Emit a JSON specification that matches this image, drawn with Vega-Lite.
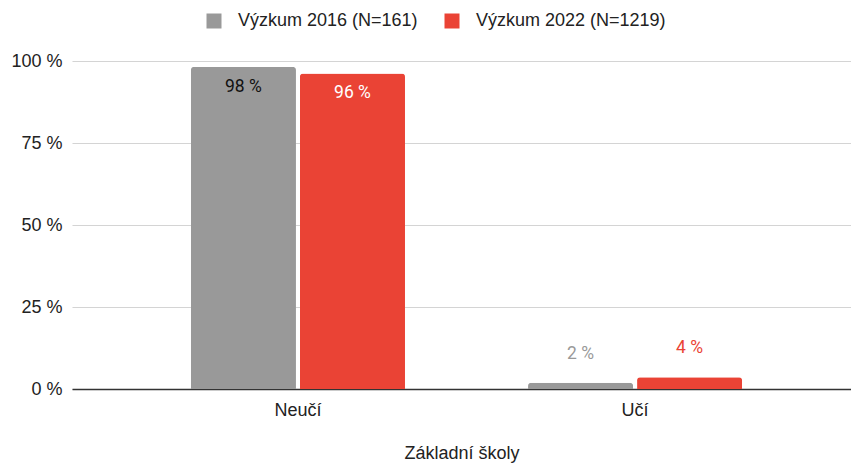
{
  "$schema": "https://vega.github.io/schema/vega-lite/v6.json",
  "autosize": {"type": "none"},
  "padding": {"left": 72, "top": 61, "right": 0, "bottom": 77},
  "width": 779,
  "height": 328,
  "config": {
    "view": {"stroke": null},
    "font": "Liberation Sans",
    "axis": {"labelFont": "Liberation Sans", "titleFont": "Liberation Sans", "labelColor": "#222222", "titleColor": "#222222"}
  },
  "data": {
    "values": [
      {"category": "Neučí", "series": "Výzkum 2016 (N=161)", "value": 98.2},
      {"category": "Neučí", "series": "Výzkum 2022 (N=1219)", "value": 96.2},
      {"category": "Učí", "series": "Výzkum 2016 (N=161)", "value": 1.9},
      {"category": "Učí", "series": "Výzkum 2022 (N=1219)", "value": 3.6}
    ]
  },
  "transform": [
    {"calculate": "format(datum.value, '.0f') + ' %'", "as": "label"}
  ],
  "encoding": {
    "x": {
      "field": "category",
      "type": "nominal",
      "sort": ["Neučí", "Učí"],
      "scale": {"paddingInner": 0.365, "paddingOuter": 0.338, "align": 0.522},
      "axis": {
        "title": "Základní školy",
        "labelAngle": 0,
        "labelFontSize": 18,
        "titleFontSize": 18,
        "titleFontWeight": "normal",
        "ticks": false,
        "labelPadding": 12,
        "titlePadding": 25,
        "domainColor": "#333333",
        "domainWidth": 1.5
      }
    },
    "xOffset": {
      "field": "series",
      "type": "nominal",
      "sort": ["Výzkum 2016 (N=161)", "Výzkum 2022 (N=1219)"],
      "scale": {"paddingInner": 0.0367, "paddingOuter": 0}
    },
    "y": {
      "field": "value",
      "type": "quantitative",
      "scale": {"domain": [0, 100], "nice": false},
      "axis": {
        "title": null,
        "values": [0, 25, 50, 75, 100],
        "labelExpr": "datum.value + ' %'",
        "labelFontSize": 18,
        "ticks": false,
        "domain": false,
        "labelPadding": 10,
        "gridColor": "#d4d4d4",
        "gridWidth": 1.2
      }
    }
  },
  "layer": [
    {
      "mark": {"type": "bar", "cornerRadiusTopLeft": 3, "cornerRadiusTopRight": 3},
      "encoding": {
        "color": {
          "field": "series",
          "type": "nominal",
          "scale": {"domain": ["Výzkum 2016 (N=161)", "Výzkum 2022 (N=1219)"], "range": ["#999999", "#ea4335"]},
          "legend": {
            "title": null,
            "orient": "none",
            "direction": "horizontal",
            "legendX": 133,
            "legendY": -49,
            "symbolType": "square",
            "symbolSize": 225,
            "symbolStrokeWidth": 0,
            "labelFontSize": 18,
            "labelFont": "Liberation Sans",
            "labelColor": "#222222",
            "labelOffset": 15,
            "labelLimit": 0,
            "columnPadding": 25
          }
        }
      }
    },
    {
      "transform": [{"filter": "datum.value > 50"}],
      "mark": {"type": "text", "baseline": "middle", "dy": 20, "fontSize": 17.5, "font": "Roboto"},
      "encoding": {
        "text": {"field": "label"},
        "color": {
          "condition": {"test": "datum.series == 'Výzkum 2016 (N=161)'", "value": "#111111"},
          "value": "#ffffff"
        }
      }
    },
    {
      "transform": [{"filter": "datum.value <= 50"}],
      "mark": {"type": "text", "baseline": "middle", "dy": -29, "fontSize": 17.5, "font": "Roboto"},
      "encoding": {
        "text": {"field": "label"},
        "color": {
          "condition": {"test": "datum.series == 'Výzkum 2016 (N=161)'", "value": "#999999"},
          "value": "#ea4335"
        }
      }
    }
  ]
}
